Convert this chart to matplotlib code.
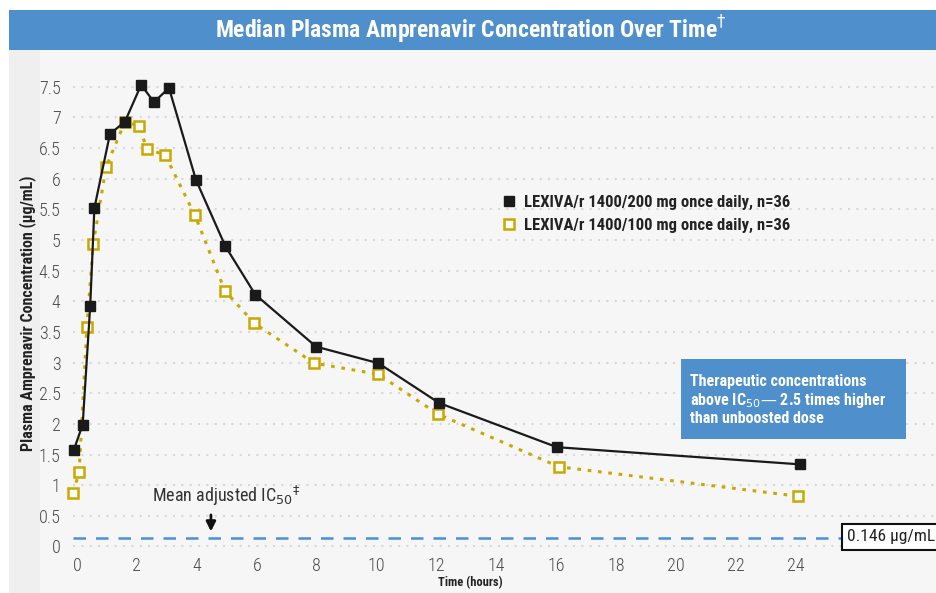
import matplotlib.pyplot as plt
from matplotlib.patches import Rectangle
from matplotlib.lines import Line2D
from matplotlib import font_manager

# pick a narrow face if one is installed
NARROW = ['DejaVu Sans']
for name in ['Roboto Condensed', 'Liberation Sans Narrow', 'Open Sans Condensed', 'Noto Sans Condensed']:
    if any(f.name == name for f in font_manager.fontManager.ttflist):
        NARROW = [name, 'DejaVu Sans']
        break
STRETCH = 'condensed'

# time (hours) / concentration (ug/mL)
t_200 = [-0.11, 0.19, 0.44, 0.58, 1.10, 1.60, 2.14, 2.57, 3.07, 3.97, 4.95, 5.95, 7.98, 10.06, 12.09, 16.02, 24.13]
c_200 = [1.57, 1.99, 3.92, 5.52, 6.73, 6.93, 7.53, 7.25, 7.48, 5.98, 4.90, 4.11, 3.26, 2.99, 2.34, 1.62, 1.34]

t_100 = [-0.13, 0.07, 0.33, 0.54, 0.97, 1.60, 2.07, 2.34, 2.94, 3.94, 4.94, 5.92, 7.92, 10.05, 12.05, 16.09, 24.07]
c_100 = [0.88, 1.21, 3.58, 4.93, 6.19, 6.93, 6.86, 6.48, 6.39, 5.40, 4.17, 3.64, 2.99, 2.81, 2.16, 1.30, 0.82]

ic50 = 0.146
x_ticks = list(range(0, 25, 2))
y_ticks = [0, 0.5, 1, 1.5, 2, 2.5, 3, 3.5, 4, 4.5, 5, 5.5, 6, 6.5, 7, 7.5]
y_labels = ['0', '0.5', '1', '1.5', '2', '2.5', '3', '3.5', '4', '4.5', '5', '5.5', '6', '6.5', '7', '7.5']

W, H = 936, 593
fig = plt.figure(figsize=(W / 100, H / 100), dpi=100)

# background panel and title banner
fig.patches.append(Rectangle((9 / W, 0), 1, 1 - 50 / H, transform=fig.transFigure,
                             facecolor='#f6f6f6', edgecolor='none', zorder=-10))
fig.patches.append(Rectangle((9 / W, 0), 31 / W, 1 - 50 / H, transform=fig.transFigure,
                             facecolor='#efefef', edgecolor='none', zorder=-10))
fig.patches.append(Rectangle((9 / W, 1 - 50 / H), 1, 40 / H, transform=fig.transFigure,
                             facecolor='#4f8fcb', edgecolor='none', zorder=-10))
fig.text(471 / W, 1 - 30 / H, 'Median Plasma Amprenavir Concentration Over Time$^{\\dagger}$',
         color='white', fontsize=17, fontweight='bold', family=NARROW, fontstretch=STRETCH,
         ha='center', va='center')

ax = fig.add_axes([73 / W, 1 - 556 / H, 1 - 73 / W, (556 - 70) / H])
ax.patch.set_alpha(0)
ax.set_xlim(-0.1335, 28.67)
ax.set_ylim(-0.155, 7.773)
for s in ax.spines.values():
    s.set_visible(False)

ax.set_yticks(y_ticks)
ax.set_yticklabels(y_labels)
ax.set_xticks(x_ticks)
ax.tick_params(length=0, labelsize=13, labelcolor='#4a4a4a')
ax.tick_params(axis='y', pad=9)
ax.tick_params(axis='x', pad=1)
for lb in ax.get_xticklabels() + ax.get_yticklabels():
    lb.set_family(NARROW)
    lb.set_fontstretch(STRETCH)
    lb.set_fontweight('light')
ax.grid(axis='y', color='#d8d8d8', linestyle=(0, (1, 3)), linewidth=1.5)
ax.set_axisbelow(True)

ax.set_ylabel('Plasma Amprenavir Concentration (\u00b5g/mL)', fontsize=11.5, fontweight='bold',
              family=NARROW, fontstretch=STRETCH, color='#222222', labelpad=2)
ax.set_xlabel('Time (hours)', fontsize=9, fontweight='bold', family=NARROW, fontstretch=STRETCH,
              color='#222222')
ax.xaxis.set_label_coords((470 - 73) / (W - 73), -20 / (556 - 70))
ax.xaxis.label.set_va('top')

# IC50 line
ax.axhline(ic50, color='#4a90d9', linestyle=(0, (5, 4)), linewidth=1.8, zorder=2)

ax.plot(t_100, c_100, color='#c9a800', linestyle=(0, (1.2, 2.2)), linewidth=2.2,
        marker='s', markersize=7, markerfacecolor='white', markeredgecolor='#c9a800',
        markeredgewidth=1.8, clip_on=False, zorder=3)
ax.plot(t_200, c_200, color='#1a1a1a', linewidth=1.6, marker='s', markersize=7.5,
        markerfacecolor='#1a1a1a', markeredgecolor='#1a1a1a', clip_on=False, zorder=4)

handles = [
    Line2D([], [], linestyle='none', marker='s', markersize=7.5, color='#1a1a1a'),
    Line2D([], [], linestyle='none', marker='s', markersize=7, markerfacecolor='white',
           markeredgecolor='#c9a800', markeredgewidth=1.8),
]
leg = ax.legend(handles, ['LEXIVA/r 1400/200 mg once daily, n=36', 'LEXIVA/r 1400/100 mg once daily, n=36'],
                loc='upper left', bbox_to_anchor=(487 / W, 1 - 180 / H), bbox_transform=fig.transFigure,
                frameon=False, handlelength=0.8, handletextpad=0.5, labelspacing=0.45,
                prop={'family': NARROW, 'weight': 'bold', 'size': 12, 'stretch': STRETCH})
for tx in leg.get_texts():
    tx.set_color('#222222')

# therapeutic box
fig.patches.append(Rectangle((681 / W, 1 - 439 / H), 225 / W, 80 / H, transform=fig.transFigure,
                             facecolor='#4f8fcb', edgecolor='none', zorder=5))
fig.text(690 / W, 1 - 400 / H,
         'Therapeutic concentrations\nabove IC$_{50}$\u2014 2.5 times higher\nthan unboosted dose',
         color='white', fontsize=11.5, fontweight='bold', family=NARROW, fontstretch=STRETCH,
         ha='left', va='center', linespacing=1.1, zorder=6)

# mean adjusted IC50 annotation
ax.text(4.97, 0.62, 'Mean adjusted IC$_{50}$$^{\\ddagger}$', fontsize=13, family=NARROW,
        fontstretch=STRETCH, color='#333333', ha='center', va='bottom')
ax.annotate('', xy=(4.47, 0.2), xytext=(4.47, 0.56),
            arrowprops=dict(arrowstyle='-|>', color='#111111', lw=2, mutation_scale=14))

fig.text(891 / W, 1 - 537 / H, '0.146 \u00b5g/mL', fontsize=12.5, family=NARROW, fontstretch=STRETCH,
         color='#222222', ha='center', va='center',
         bbox=dict(boxstyle='square,pad=0.3', facecolor='white', edgecolor='#111111', linewidth=1.5))

fig.savefig('out.png', dpi=100)
